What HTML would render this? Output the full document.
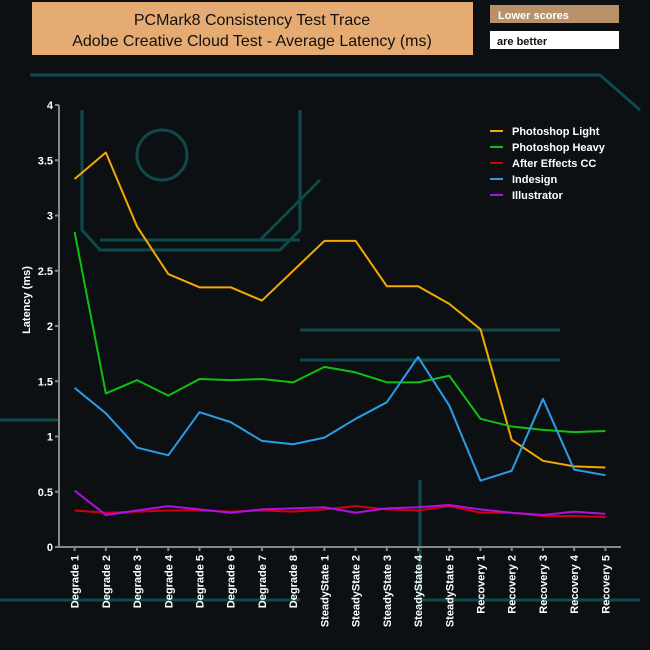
<!DOCTYPE html>
<html><head><meta charset="utf-8"><style>
body{margin:0;background:#0c1012;}
svg{display:block;font-family:"Liberation Sans",sans-serif;}
</style></head><body>
<svg id="c" width="650" height="650" viewBox="0 0 650 650">
<rect width="650" height="650" fill="#0c1012"/>
<g stroke="#0e4a4c" stroke-width="3" fill="none">
<path d="M82 110 V230 L100 250 H280 L300 230 V110"/>
<path d="M100 240 H300"/>
<path d="M30 75 H600 L640 110"/>
<path d="M300 330 H560"/><path d="M300 360 H560"/>
<path d="M420 480 V600 H640"/>
<path d="M0 420 H60"/><path d="M0 600 H300"/>
<circle cx="162" cy="155" r="25"/>
<path d="M260 240 L320 180"/>
</g>
<rect x="32" y="2" width="441" height="53" fill="#e6ab72"/>
<text x="252" y="25" text-anchor="middle" font-size="16" fill="#111">PCMark8 Consistency Test Trace</text>
<text x="252" y="46" text-anchor="middle" font-size="16" fill="#111">Adobe Creative Cloud Test -  Average Latency (ms)</text>
<rect x="490" y="5" width="129" height="18" fill="#b8906a"/>
<text x="498" y="19" font-size="11" font-weight="bold" fill="#fff">Lower scores</text>
<rect x="490" y="31" width="129" height="18" fill="#fff"/>
<text x="497" y="45" font-size="11" font-weight="bold" fill="#111">are better</text>
<g id="axes"></g><g id="series"></g><g id="legend"></g>
</svg>
<script>
const categories=["Degrade 1","Degrade 2","Degrade 3","Degrade 4","Degrade 5","Degrade 6","Degrade 7","Degrade 8","SteadyState 1","SteadyState 2","SteadyState 3","SteadyState 4","SteadyState 5","Recovery 1","Recovery 2","Recovery 3","Recovery 4","Recovery 5"];
const yTicks=[0,0.5,1,1.5,2,2.5,3,3.5,4];
const yTickLabels=["0","0.5","1","1.5","2","2.5","3","3.5","4"];
const seriesNames=["Photoshop Light"," Photoshop Heavy","After Effects CC","Indesign","Illustrator"];
const seriesColors=["#f5a800","#10c010","#d00010","#2a9de8","#b010e0"];
const photoshopLight=[3.33,3.57,2.9,2.47,2.35,2.35,2.23,2.5,2.77,2.77,2.36,2.36,2.2,1.97,0.97,0.78,0.73,0.72];
const photoshopHeavy=[2.85,1.39,1.51,1.37,1.52,1.51,1.52,1.49,1.63,1.58,1.49,1.49,1.55,1.16,1.09,1.06,1.04,1.05];
const afterEffects=[0.33,0.31,0.32,0.33,0.33,0.32,0.33,0.32,0.34,0.37,0.34,0.33,0.37,0.31,0.31,0.28,0.28,0.27];
const indesign=[1.44,1.21,0.9,0.83,1.22,1.13,0.96,0.93,0.99,1.16,1.31,1.72,1.28,0.6,0.69,1.34,0.7,0.65];
const illustrator=[0.51,0.29,0.33,0.37,0.34,0.31,0.34,0.35,0.36,0.31,0.35,0.36,0.38,0.34,0.31,0.29,0.32,0.3];
const allSeries=[photoshopLight,photoshopHeavy,afterEffects,indesign,illustrator];
const NS="http://www.w3.org/2000/svg";
const x0=59,x1=621,yBase=547,yTop=105,yMax=4;
const band=(x1-x0)/categories.length;
const xs=i=>x0+band*(i+0.5);
const ys=v=>yBase-(v/yMax)*(yBase-yTop);
function mk(tag,attrs,parent){const e=document.createElementNS(NS,tag);for(const k in attrs)e.setAttribute(k,attrs[k]);parent.appendChild(e);return e;}
const axes=document.getElementById('axes');
let a=mk('line',{x1:x0,y1:yTop,x2:x0,y2:yBase,stroke:'#888','stroke-width':2},axes);

a=mk('line',{x1:x0,y1:yBase,x2:x1,y2:yBase,stroke:'#888','stroke-width':2},axes);

yTicks.forEach((v,i)=>{
 const t=mk('line',{x1:x0-4,y1:ys(v),x2:x0,y2:ys(v),stroke:'#888','stroke-width':2},axes);
 
 const l=mk('text',{x:x0-6,y:ys(v)+4,'text-anchor':'end','font-size':11,'font-weight':'bold',fill:'#fff'},axes);
 l.textContent=yTickLabels[i];
 
});
categories.forEach((c,i)=>{
 const x=xs(i);
 const t=mk('line',{x1:x,y1:yBase,x2:x,y2:yBase+4,stroke:'#888','stroke-width':2},axes);
 
 const l=mk('text',{x:x+4,y:yBase+8,'text-anchor':'end','font-size':11,'font-weight':'bold',fill:'#fff',transform:`rotate(-90 ${x+4} ${yBase+8})`},axes);
 l.textContent=c;
 
});
const yt=mk('text',{x:30,y:300,'text-anchor':'middle','font-size':11,'font-weight':'bold',fill:'#fff',transform:'rotate(-90 30 300)'},axes);
yt.textContent='Latency (ms)';

const sg=document.getElementById('series'),lg=document.getElementById('legend');
allSeries.forEach((s,k)=>{
 const p=mk('polyline',{points:s.map((v,i)=>xs(i)+','+ys(v)).join(' '),fill:'none',stroke:seriesColors[k],'stroke-width':2,'stroke-linejoin':'round'},sg);
 
 const y=131+k*16;
 const ll=mk('line',{x1:490,y1:y,x2:503,y2:y,stroke:seriesColors[k],'stroke-width':2},lg);
 
 const lt=mk('text',{x:512,y:y+4,'font-size':11,'font-weight':'bold',fill:'#fff','xml:space':'preserve'},lg);
 lt.textContent=seriesNames[k];
 
});
</script>
</body></html>
